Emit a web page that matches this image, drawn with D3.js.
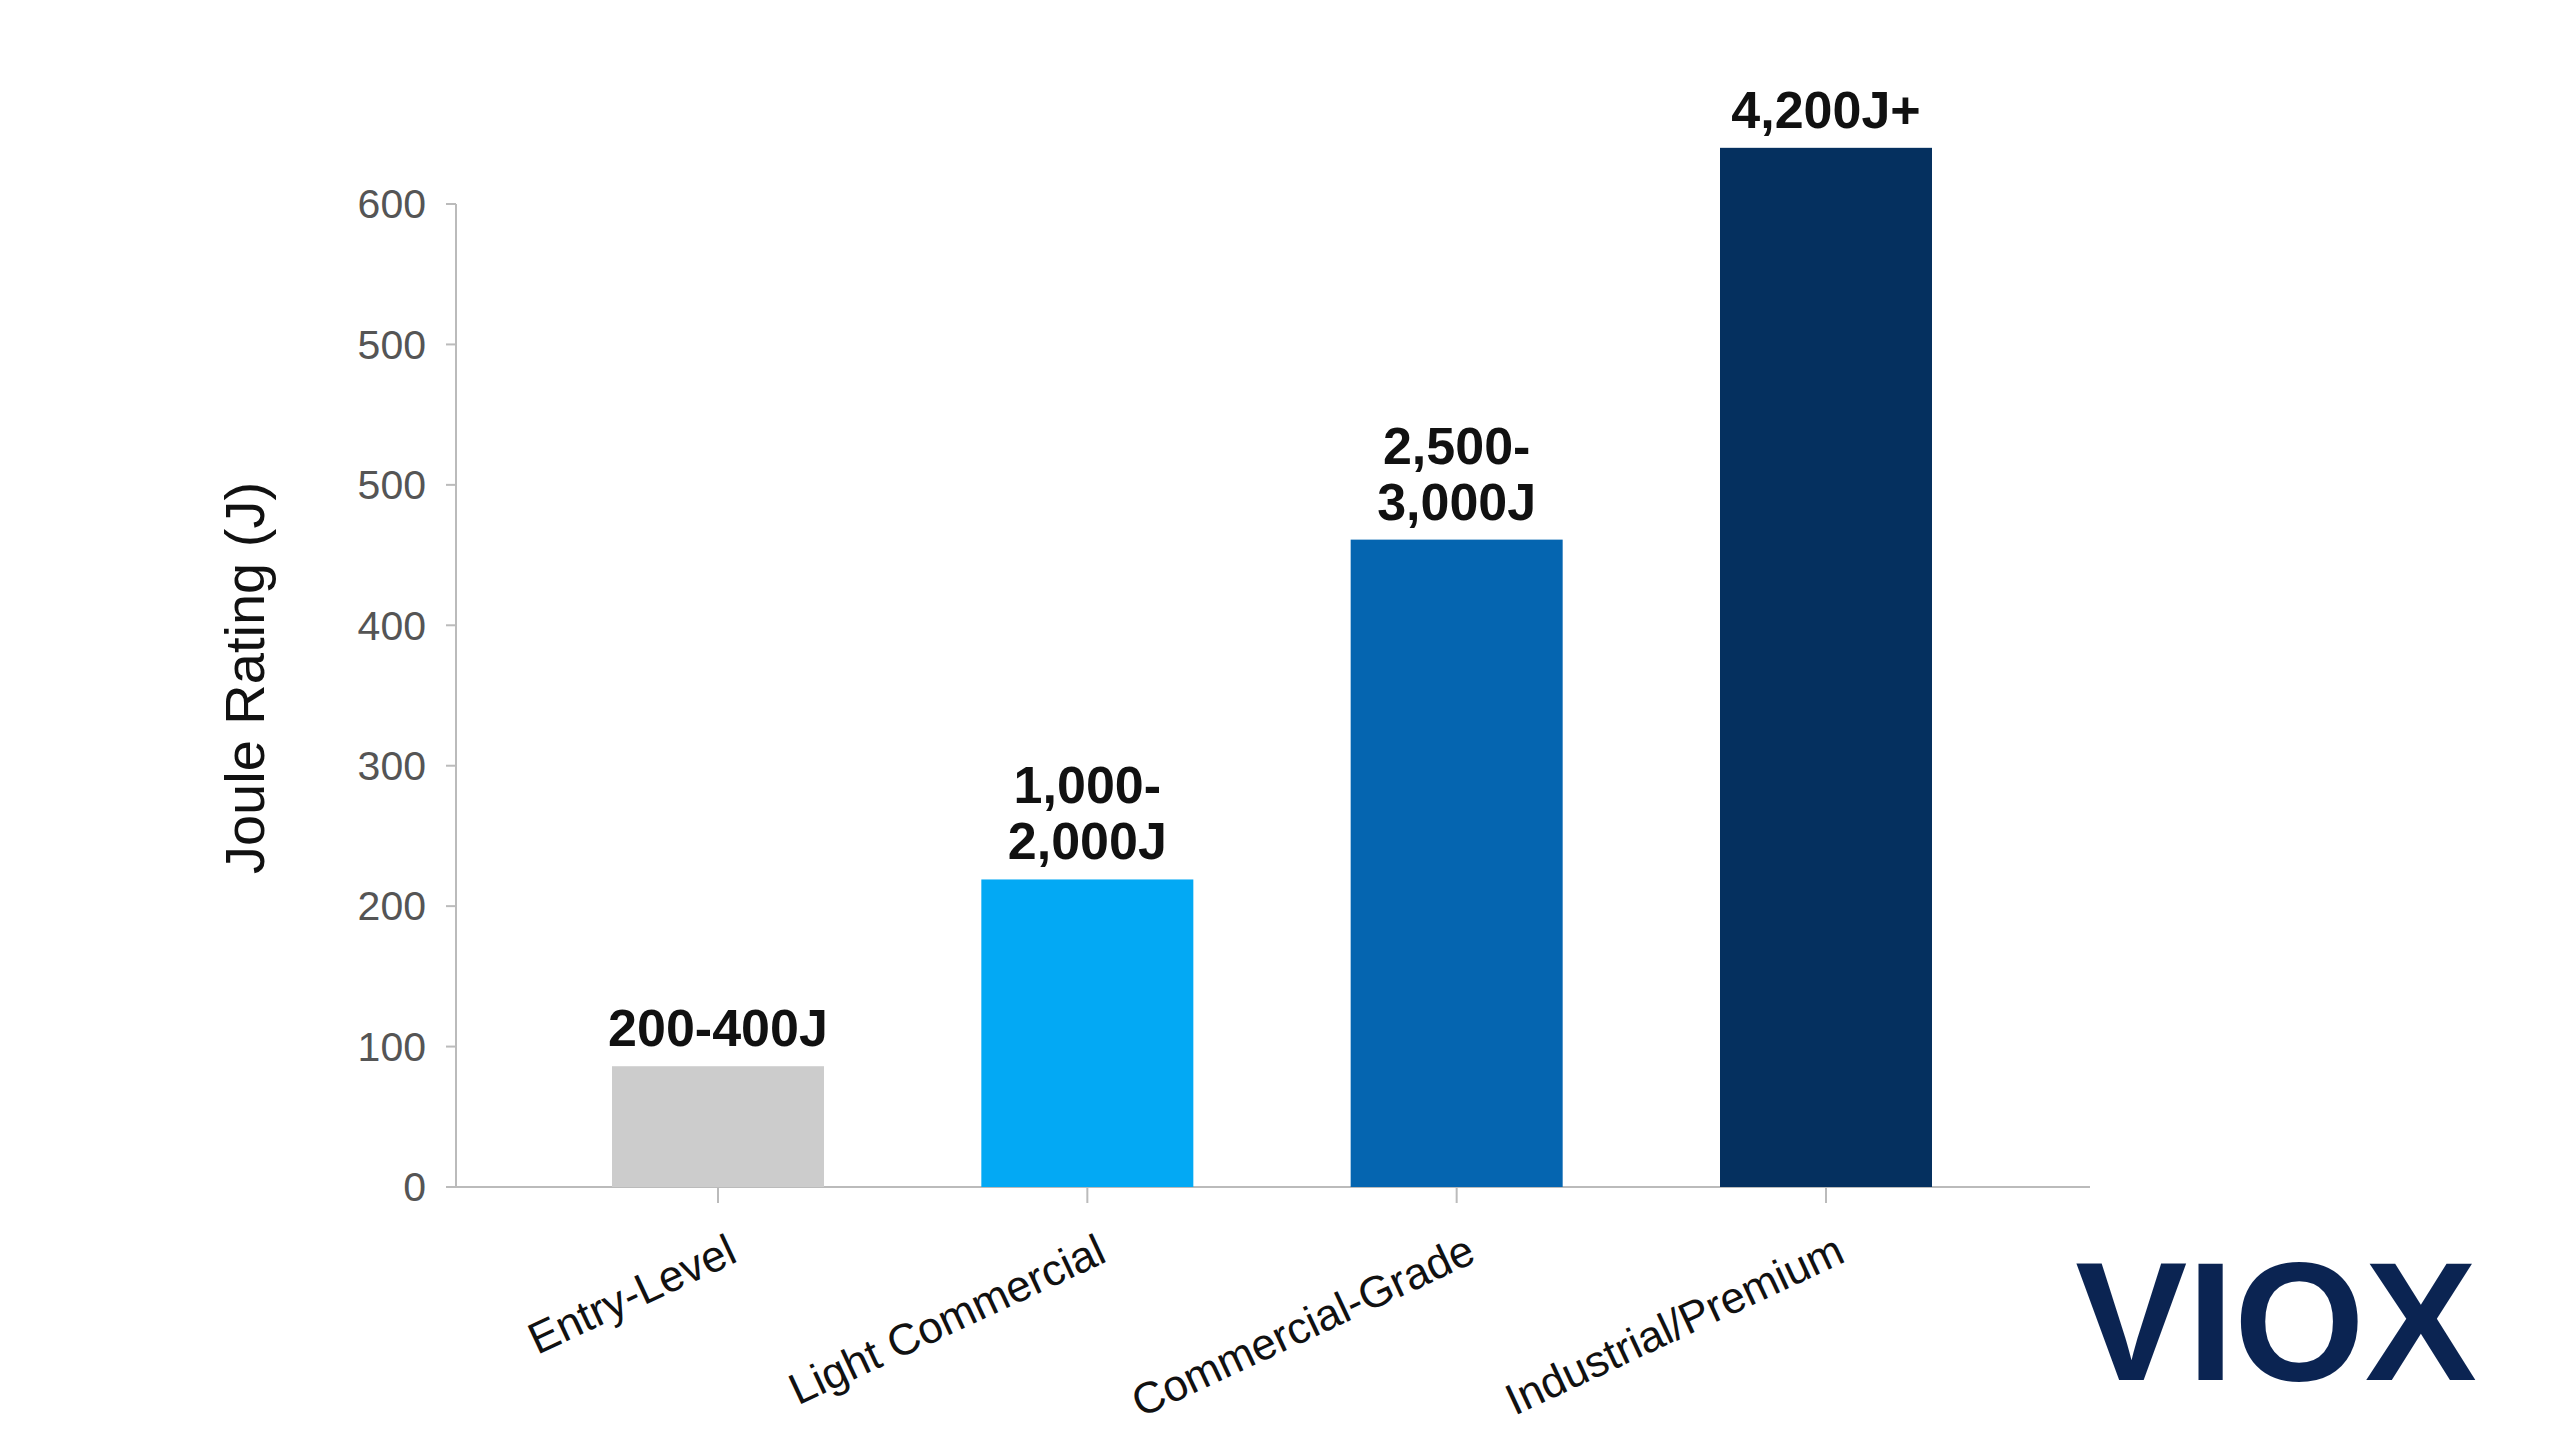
<!DOCTYPE html>
<html><head><meta charset="utf-8">
<script src="https://cdn.jsdelivr.net/npm/d3@7"></script>
<style>body{margin:0;background:#fff}svg{display:block}</style>
</head><body>
<script>
// chart data
var categories = ["Entry-Level", "Light Commercial", "Commercial-Grade", "Industrial/Premium"];
var values = [86, 219, 461, 740];
var barLabels = [["200-400J"], ["1,000-", "2,000J"], ["2,500-", "3,000J"], ["4,200J+"]];
var barColors = ["#cccccc", "#03a9f4", "#0565b0", "#05305f"];
var tickValues = [0, 100, 200, 300, 400, 500, 600, 700];
var tickLabels = ["0", "100", "200", "300", "400", "500", "500", "600"];

var W = 2560, H = 1440;
var svg = d3.select("body").append("svg").attr("width", W).attr("height", H);

var y = d3.scaleLinear().domain([0, 700]).range([1187, 204]);
var x = d3.scalePoint().domain(categories).range([718, 1826]);
var bw = 212;
var font = "Liberation Sans, Arial, sans-serif";

// axes lines
svg.append("line").attr("x1", 456).attr("x2", 2090).attr("y1", y(0)).attr("y2", y(0))
  .attr("stroke", "#bbb").attr("stroke-width", 2);
svg.append("line").attr("x1", 456).attr("x2", 456).attr("y1", y(0)).attr("y2", y(700))
  .attr("stroke", "#bbb").attr("stroke-width", 2);

// y ticks
var yt = svg.append("g");
tickValues.forEach(function(v, i){
  yt.append("line").attr("x1", 446).attr("x2", 456).attr("y1", y(v)).attr("y2", y(v))
    .attr("stroke", "#bbb").attr("stroke-width", 2);
  yt.append("text").attr("x", 426).attr("y", y(v)).attr("dy", "0.35em")
    .attr("text-anchor", "end").attr("font-family", font)
    .attr("font-size", 41).attr("fill", "#555").text(tickLabels[i]);
});

svg.append("text").attr("transform", "translate(264,678) rotate(-90)")
  .attr("text-anchor", "middle").attr("font-family", font)
  .attr("font-size", 56).attr("fill", "#111").text("Joule Rating (J)");

// bars
svg.selectAll("rect.bar").data(categories).enter().append("rect")
  .attr("x", function(d){ return x(d) - bw/2; })
  .attr("y", function(d, i){ return y(values[i]); })
  .attr("width", bw)
  .attr("height", function(d, i){ return y(0) - y(values[i]); })
  .attr("fill", function(d, i){ return barColors[i]; });

// value labels
categories.forEach(function(c, i){
  var lines = barLabels[i];
  var t = svg.append("text").attr("text-anchor", "middle")
    .attr("font-family", font)
    .attr("font-weight", "bold").attr("font-size", 52).attr("fill", "#111");
  lines.forEach(function(l, k){
    t.append("tspan").attr("x", x(c))
      .attr("y", y(values[i]) - 20 - (lines.length - 1 - k) * 56).text(l);
  });
});

// x ticks and labels
categories.forEach(function(c){
  svg.append("line").attr("x1", x(c)).attr("x2", x(c)).attr("y1", y(0)).attr("y2", y(0) + 16)
    .attr("stroke", "#bbb").attr("stroke-width", 2);
  svg.append("text").attr("transform", "translate(" + (x(c) + 8) + "," + (y(0) + 46) + ") rotate(-25)")
    .attr("text-anchor", "end").attr("dy", "0.7em")
    .attr("font-family", font)
    .attr("font-size", 44).attr("fill", "#111").text(c);
});

// logo
svg.append("text").attr("x", 2276).attr("y", 1380).attr("text-anchor", "middle")
  .attr("font-family", font).attr("font-weight", "bold")
  .attr("font-size", 168).attr("fill", "#0b2452").text("VIOX");
</script>
</body></html>
